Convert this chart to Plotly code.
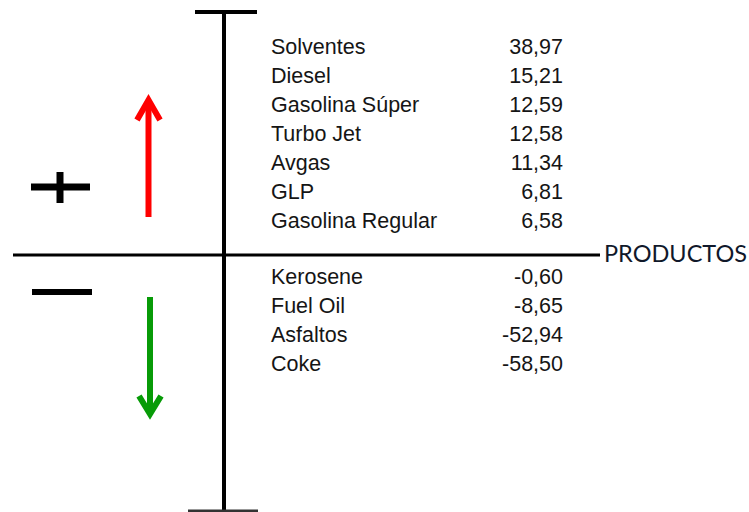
import plotly.graph_objects as go

# Data
pos_products = ["Solventes", "Diesel", "Gasolina Súper", "Turbo Jet", "Avgas", "GLP", "Gasolina Regular"]
pos_values = [38.97, 15.21, 12.59, 12.58, 11.34, 6.81, 6.58]
neg_products = ["Kerosene", "Fuel Oil", "Asfaltos", "Coke"]
neg_values = [-0.60, -8.65, -52.94, -58.50]
axis_label = "PRODUCTOS"

W, H = 749, 512
ROW = 29
POS_Y0 = 49
NEG_Y0 = 279
NAME_X = 271
VAL_X = 563

def fmt(v):
    return f"{v:.2f}".replace(".", ",")

names = pos_products + neg_products
vals = pos_values + neg_values
ys = [POS_Y0 + i * ROW for i in range(len(pos_products))] + \
     [NEG_Y0 + i * ROW for i in range(len(neg_products))]

fig = go.Figure()
font = dict(family="Liberation Sans, Arial, sans-serif", size=21.5, color="#151515")
fig.add_trace(go.Scatter(x=[NAME_X] * len(names), y=ys, text=names, mode="text",
                         textposition="middle right", textfont=font, hoverinfo="skip"))
fig.add_trace(go.Scatter(x=[VAL_X] * len(vals), y=ys, text=[fmt(v) for v in vals], mode="text",
                         textposition="middle left", textfont=font, hoverinfo="skip"))

shapes = []
blk = "#000000"
# vertical axis with caps
shapes.append(dict(type="line", x0=224, x1=224, y0=12, y1=512, line=dict(color=blk, width=4)))
shapes.append(dict(type="line", x0=195, x1=257, y0=12, y1=12, line=dict(color=blk, width=4)))
shapes.append(dict(type="line", x0=188, x1=258, y0=511, y1=511, line=dict(color="#333", width=3)))
# horizontal axis
shapes.append(dict(type="line", x0=13, x1=600, y0=255, y1=255, line=dict(color=blk, width=3)))
# plus sign
shapes.append(dict(type="line", x0=31, x1=90, y0=187, y1=187, line=dict(color=blk, width=7)))
shapes.append(dict(type="line", x0=60, x1=60, y0=172, y1=203, line=dict(color=blk, width=7)))
# minus sign
shapes.append(dict(type="line", x0=32, x1=92, y0=292, y1=292, line=dict(color=blk, width=6)))
# red arrow up
red = "#ff0000"
shapes.append(dict(type="line", x0=148.5, x1=148.5, y0=217, y1=100, line=dict(color=red, width=6)))
shapes.append(dict(type="path", path="M 137 120 L 148.5 100 L 160 120", line=dict(color=red, width=6)))
# green arrow down
green = "#079b07"
shapes.append(dict(type="line", x0=150, x1=150, y0=297, y1=414, line=dict(color=green, width=6)))
shapes.append(dict(type="path", path="M 139 396 L 150 414 L 161 396", line=dict(color=green, width=6)))

fig.update_layout(
    width=W, height=H, margin=dict(l=0, r=0, t=0, b=0),
    plot_bgcolor="white", paper_bgcolor="white", showlegend=False,
    xaxis=dict(range=[0, W], visible=False, fixedrange=True),
    yaxis=dict(range=[H, 0], visible=False, fixedrange=True),
    shapes=shapes,
    annotations=[dict(x=602, y=253, xref="x", yref="y", text=axis_label, showarrow=False,
                      xanchor="left", yanchor="middle",
                      font=dict(family="Lato, Open Sans, sans-serif", size=23.5, color="#10182a"))],
)
fig.write_html("out.html", config={"displayModeBar": False},
               post_script="document.body.style.margin='0';document.body.style.overflow='hidden';")
